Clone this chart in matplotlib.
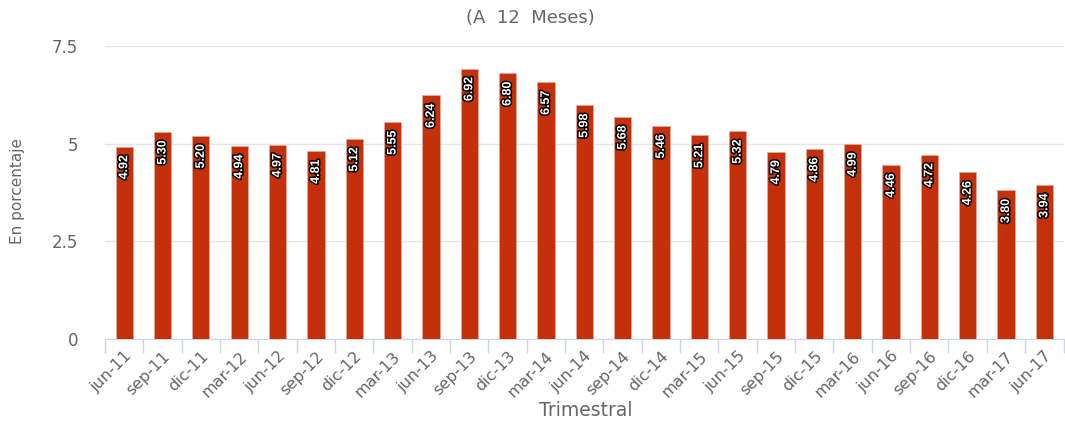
import matplotlib.pyplot as plt
import matplotlib.patheffects as pe

trimestres = ['jun-11', 'sep-11', 'dic-11', 'mar-12', 'jun-12', 'sep-12', 'dic-12',
              'mar-13', 'jun-13', 'sep-13', 'dic-13', 'mar-14', 'jun-14', 'sep-14',
              'dic-14', 'mar-15', 'jun-15', 'sep-15', 'dic-15', 'mar-16', 'jun-16',
              'sep-16', 'dic-16', 'mar-17', 'jun-17']
valores = [4.92, 5.30, 5.20, 4.94, 4.97, 4.81, 5.12, 5.55, 6.24, 6.92, 6.80, 6.57,
           5.98, 5.68, 5.46, 5.21, 5.32, 4.79, 4.86, 4.99, 4.46, 4.72, 4.26, 3.80, 3.94]
yticks = [0, 2.5, 5, 7.5]
ylabels = ['0', '2.5', '5', '7.5']

fig = plt.figure(figsize=(10.65, 4.21), dpi=100)
ax = fig.add_axes([0.0986, 0.195, 0.9, 0.696])

x = list(range(len(valores)))
ax.bar(x, valores, width=0.45, color='#c3300a', edgecolor='#e8b0a0', linewidth=0.4, zorder=3)

for xi, v in zip(x, valores):
    ax.annotate(f'{v:.2f}', (xi, v), xytext=(0, -6), textcoords='offset points',
                rotation=90, ha='center', va='top', fontsize=9, fontweight='bold',
                family='Liberation Sans', color='white', zorder=4,
                path_effects=[pe.withStroke(linewidth=2.2, foreground='black')])

ax.set_xlim(-0.5, len(valores) - 0.5)
ax.set_ylim(0, 7.5)
ax.set_yticks(yticks)
ax.set_yticklabels(ylabels)
ax.grid(axis='y', color='#e6e6e6', linewidth=1, zorder=0)

ax.set_xticks(x)
ax.set_xticklabels(trimestres, rotation=45, ha='right', rotation_mode='anchor')
ax.set_xticks([i - 0.5 for i in range(len(valores) + 1)], minor=True)
ax.tick_params(axis='x', which='major', length=0, pad=7, labelsize=11.5, labelcolor='#666666')
ax.tick_params(axis='x', which='minor', length=10, color='#ccd6eb', width=1)
ax.tick_params(axis='y', length=0, pad=19.5, labelsize=12, labelcolor='#666666')

for s in ['top', 'right', 'left']:
    ax.spines[s].set_visible(False)
ax.spines['bottom'].set_color('#ccd6eb')

fig.text(18 / 1065, 1 - 191 / 421, 'En porcentaje', rotation=90, ha='center', va='center',
         fontsize=11, color='#666666')
fig.text(586 / 1065, 1 - 410 / 421, 'Trimestral', ha='center', va='center',
         fontsize=13.5, color='#666666')
fig.text(0.4977, 0.957, '(A  12  Meses)', ha='center', va='center', fontsize=13, color='#666666')

fig.savefig('out.png', dpi=100)
